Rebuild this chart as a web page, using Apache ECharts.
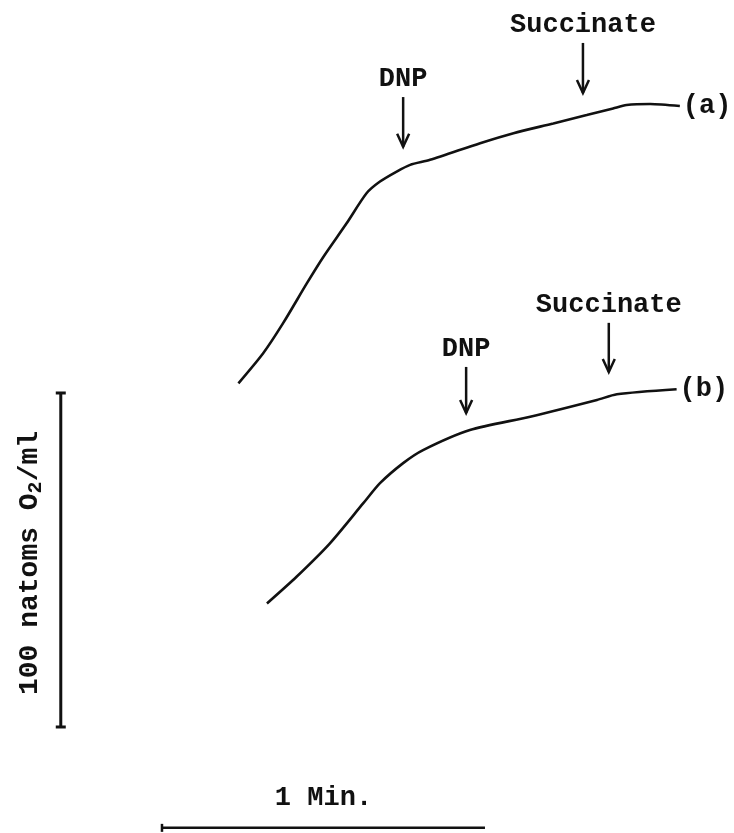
<!DOCTYPE html>
<html><head><meta charset="utf-8">
<script src="https://cdn.jsdelivr.net/npm/echarts@6/dist/echarts.min.js"></script>
<style>html,body{margin:0;padding:0;background:#fff}#c{width:734px;height:833px}</style>
</head><body><div id="c"></div><script>
// Trace (a): time in seconds, O2 uptake in natoms O2/ml (arbitrary origin)
const timeA = [14.2, 18.8, 22.5, 26.9, 30.0, 34.3, 38.0, 40.5, 43.6, 46.1, 49.8, 59.1, 65.3, 72.7, 78.9, 83.8, 86.3, 90.7, 96.2];
const o2A   = [102.9, 111.9, 120.9, 132.8, 140.8, 150.8, 159.8, 163.3, 166.3, 168.3, 169.8, 174.8, 177.8, 180.7, 183.2, 185.2, 186.2, 186.5, 185.9];
// Trace (b)
const timeB = [19.5, 25.0, 31.2, 37.4, 40.5, 44.8, 48.5, 57.2, 68.4, 80.8, 84.5, 95.6];
const o2B   = [37.0, 45.0, 55.0, 67.0, 73.0, 79.0, 82.9, 88.9, 92.9, 97.9, 99.6, 101.1];
const traceNames = ['(a)', '(b)'];
// Additions (arrows)
const arrowLabels = ['DNP', 'Succinate', 'DNP', 'Succinate'];
const arrowTime   = [44.8, 78.2, 56.5, 83.0];
const arrowTop    = [188.6, 204.8, 107.8, 121.0];
const arrowTip    = [173.7, 189.8, 94.0, 106.3];
// Scale bars
const scaleO2 = [0, 100];      // natoms O2/ml
const scaleO2Time = -18.8;     // drawn at this time
const scaleTime = [0, 60];     // seconds (1 min)
const scaleTimeLevel = -30.2;  // drawn at this O2 level
const scaleO2Label = ['100 natoms O', '2', '/ml'];
const scaleTimeLabel = '1 Min.';

const FONT = '"Liberation Mono", "DejaVu Sans Mono", monospace';
const INK = '#111';
const FW = 'bold';

const chart = echarts.init(document.getElementById('c'), null, {renderer: 'canvas'});

function renderArrow(params, api) {
  const i = params.dataIndex;
  const p1 = api.coord([api.value(0), api.value(1)]);
  const p2 = api.coord([api.value(0), api.value(2)]);
  return {type: 'group', children: [
    {type: 'line', shape: {x1: p1[0], y1: p1[1], x2: p2[0], y2: p2[1]}, style: {stroke: INK, lineWidth: 2.5}},
    {type: 'polyline', shape: {points: [[p2[0] - 6, p2[1] - 13], [p2[0], p2[1]], [p2[0] + 6, p2[1] - 13]]},
      style: {stroke: INK, lineWidth: 2.5, fill: null}},
    {type: 'text', x: p1[0], y: p1[1] - 18, style: {text: arrowLabels[i], fill: INK, fontSize: 27, fontFamily: FONT,
      fontWeight: FW, align: 'center', verticalAlign: 'middle'}}
  ]};
}

function renderScales(params, api) {
  const v0 = api.coord([scaleO2Time, scaleO2[0]]);
  const v1 = api.coord([scaleO2Time, scaleO2[1]]);
  const h0 = api.coord([scaleTime[0], scaleTimeLevel]);
  const h1 = api.coord([scaleTime[1], scaleTimeLevel]);
  const st = {stroke: INK, lineWidth: 3};
  return {type: 'group', children: [
    {type: 'line', shape: {x1: v0[0], y1: v0[1], x2: v1[0], y2: v1[1]}, style: st},
    {type: 'line', shape: {x1: v0[0] - 5, y1: v0[1], x2: v0[0] + 5, y2: v0[1]}, style: st},
    {type: 'line', shape: {x1: v1[0] - 5, y1: v1[1], x2: v1[0] + 5, y2: v1[1]}, style: st},
    {type: 'line', shape: {x1: h0[0], y1: h0[1], x2: h1[0], y2: h1[1]}, style: {stroke: INK, lineWidth: 2.5}},
    {type: 'line', shape: {x1: h0[0], y1: h0[1] - 4, x2: h0[0], y2: h0[1] + 4}, style: {stroke: INK, lineWidth: 2.5}},
    {type: 'text', x: v0[0] - 31, y: (v0[1] + v1[1]) / 2 + 3, rotation: Math.PI / 2,
      style: {text: '{m|' + scaleO2Label[0] + '}{s|' + scaleO2Label[1] + '}{m|' + scaleO2Label[2] + '}',
        align: 'center', verticalAlign: 'middle', fill: INK,
        rich: {m: {fontSize: 28, fontFamily: FONT, fontWeight: FW, lineHeight: 32, fill: INK},
               s: {fontSize: 20, fontFamily: FONT, fontWeight: FW, lineHeight: 20, verticalAlign: 'bottom', fill: INK}}}},
    {type: 'text', x: (h0[0] + h1[0]) / 2, y: h0[1] - 30,
      style: {text: scaleTimeLabel, fill: INK, fontSize: 27, fontFamily: FONT, fontWeight: FW, align: 'center', verticalAlign: 'middle'}}
  ]};
}

const endLabel = (name) => ({show: true, formatter: name, color: INK, fontSize: 27, fontFamily: FONT, fontWeight: FW, distance: 3});

chart.setOption({
  animation: false,
  backgroundColor: '#fff',
  grid: {left: 0, right: 0, top: 0, bottom: 0},
  xAxis: {type: 'value', min: -30.09, max: 106.26, show: false},
  yAxis: {type: 'value', min: -31.74, max: 217.66, show: false},
  series: [
    {type: 'line', name: traceNames[0], data: timeA.map((t, i) => [t, o2A[i]]), symbol: 'none', smooth: 0.25,
      lineStyle: {color: INK, width: 2.6}, endLabel: endLabel(traceNames[0])},
    {type: 'line', name: traceNames[1], data: timeB.map((t, i) => [t, o2B[i]]), symbol: 'none', smooth: 0.25,
      lineStyle: {color: INK, width: 2.6}, endLabel: endLabel(traceNames[1])},
    {type: 'custom', renderItem: renderArrow, data: arrowTime.map((t, i) => [t, arrowTop[i], arrowTip[i]])},
    {type: 'custom', renderItem: renderScales, data: [[0, 0]]}
  ]
});
</script></body></html>
